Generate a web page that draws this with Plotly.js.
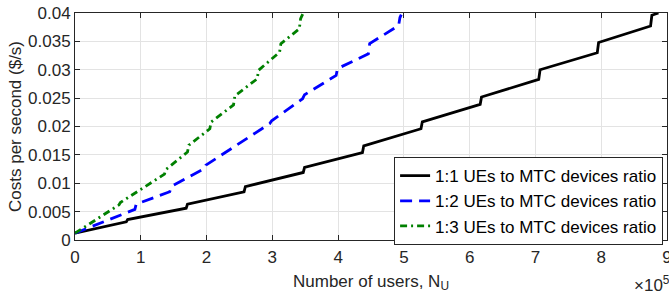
<!DOCTYPE html>
<html>
<head>
<meta charset="utf-8">
<script src="https://cdn.plot.ly/plotly-3.0.1.min.js"></script>
<style>html,body{margin:0;padding:0;background:#fff;}#chart{width:669px;height:296px;}</style>
</head>
<body>
<div id="chart"></div>
<script>
// x values in units of 10^5 users
var xRatio11 = [0, 0.78, 0.80, 1.69, 1.71, 2.57, 2.59, 3.47, 3.49, 4.37, 4.39, 5.26, 5.28, 6.16, 6.18, 7.05, 7.07, 7.94, 7.96, 8.75, 8.77, 8.87];
var yRatio11 = [0.0012, 0.0032, 0.0036, 0.0056, 0.0063, 0.0085, 0.0094, 0.0119, 0.0128, 0.0154, 0.0166, 0.0196, 0.0208, 0.0239, 0.0252, 0.0283, 0.0300, 0.0330, 0.0348, 0.0377, 0.0396, 0.0400];

var xRatio12 = [0, 0.91, 0.93, 1.44, 1.47, 1.97, 1.99, 2.96, 2.99, 3.46, 3.49, 3.97, 3.99, 4.46, 4.48, 4.92, 4.94, 4.96];
var yRatio12 = [0.0012, 0.0054, 0.0063, 0.0085, 0.0095, 0.0126, 0.0132, 0.0205, 0.0210, 0.0249, 0.0256, 0.0290, 0.0302, 0.0328, 0.0346, 0.0378, 0.0392, 0.0397];

var xRatio13 = [0, 0.67, 0.69, 1.36, 1.38, 1.71, 1.73, 2.05, 2.07, 2.41, 2.43, 2.77, 2.79, 3.11, 3.13, 3.41, 3.43, 3.47];
var yRatio13 = [0.0012, 0.0062, 0.0066, 0.0116, 0.0124, 0.0155, 0.0167, 0.0196, 0.0208, 0.0238, 0.0254, 0.0284, 0.0299, 0.0331, 0.0346, 0.0372, 0.0390, 0.0400];

var seriesNames = ['1:1 UEs to MTC devices ratio', '1:2 UEs to MTC devices ratio', '1:3 UEs to MTC devices ratio'];
var xTickVals = [0, 1, 2, 3, 4, 5, 6, 7, 8, 9];
var yTickVals = [0, 0.005, 0.01, 0.015, 0.02, 0.025, 0.03, 0.035, 0.04];
var yTickText = ['0', '0.005', '0.01', '0.015', '0.02', '0.025', '0.03', '0.035', '0.04'];

var font = 'Liberation Sans, Arial, Helvetica, sans-serif';
var txt = '#262626';
var fs = 17;

var traces = [
  {x: xRatio11, y: yRatio11, name: seriesNames[0], mode: 'lines', line: {color: '#000000', width: 2.8}},
  {x: xRatio12, y: yRatio12, name: seriesNames[1], mode: 'lines', line: {color: '#0000ff', width: 2.8, dash: '12px,7px'}},
  {x: xRatio13, y: yRatio13, name: seriesNames[2], mode: 'lines', line: {color: '#008000', width: 2.8, dash: '7px,4px,2px,4px'}}
];

var axisCommon = {
  showline: true, linecolor: txt, linewidth: 1, mirror: 'ticks',
  ticks: 'inside', ticklen: 5, tickcolor: txt, tickwidth: 1,
  showgrid: true, gridcolor: '#e3e3e3', gridwidth: 1, zeroline: false,
  tickfont: {family: font, size: fs, color: txt}
};

var layout = {
  width: 669, height: 296, autosize: false,
  margin: {l: 75, r: 2, t: 12.5, b: 56, pad: 0},
  paper_bgcolor: '#ffffff', plot_bgcolor: '#ffffff',
  showlegend: true,
  font: {family: font, color: txt},
  xaxis: Object.assign({}, axisCommon, {
    range: [0, 9], tickvals: xTickVals, ticktext: xTickVals.map(String),
    ticklabelstandoff: 2, ticklabeloverflow: 'allow',
    title: {text: 'Number of users, N<sub>U</sub>', font: {family: font, size: fs, color: txt}, standoff: 8}
  }),
  yaxis: Object.assign({}, axisCommon, {
    range: [0, 0.04], tickvals: yTickVals, ticktext: yTickText,
    title: {text: 'Costs per second ($/s)', font: {family: font, size: fs, color: txt}, standoff: 2}
  }),
  legend: {
    x: 0.539, y: 0.365, xanchor: 'left', yanchor: 'top',
    bgcolor: '#ffffff', bordercolor: txt, borderwidth: 1,
    font: {family: font, size: fs, color: '#000000'},
    itemwidth: 30
  },
  annotations: [{
    xref: 'paper', yref: 'paper', x: 1.008, y: -0.195, xanchor: 'right', yanchor: 'middle',
    text: '×10<sup>5</sup>', showarrow: false, font: {family: font, size: fs, color: txt}
  }]
};

Plotly.newPlot('chart', traces, layout, {staticPlot: true, displayModeBar: false});
</script>
</body>
</html>
